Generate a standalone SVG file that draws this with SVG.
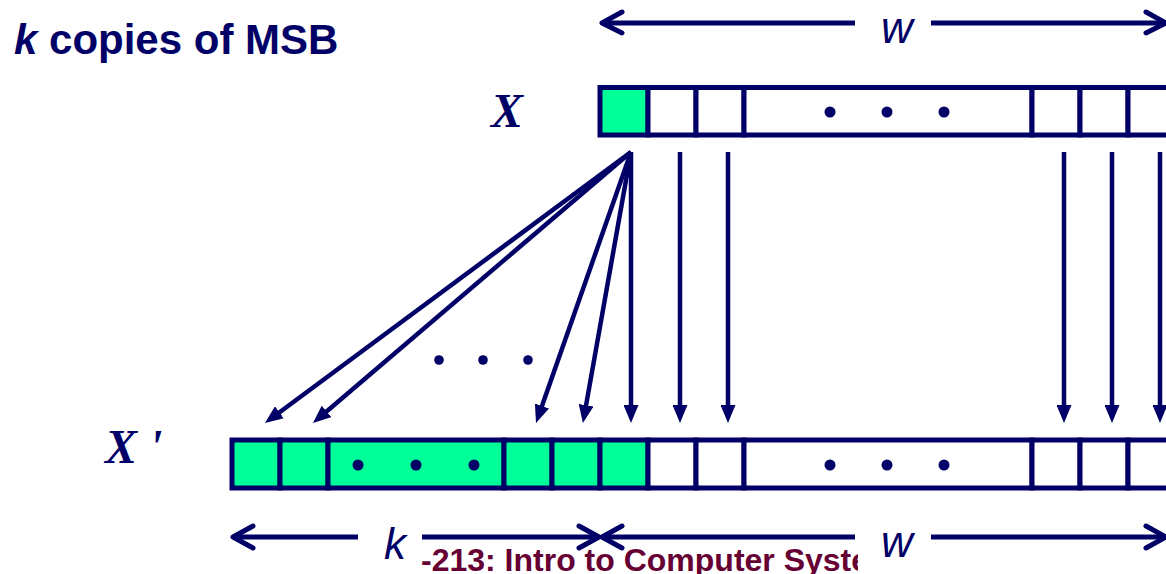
<svg xmlns="http://www.w3.org/2000/svg" width="1166" height="574" viewBox="0 0 1166 574">
<style>
.reg{fill:none;stroke:#000066;stroke-width:5}
.cell{stroke:#000066;stroke-width:5}
.g{fill:#00FF99}
.w{fill:#FFFFFF}
.dot{fill:#000066}
.ln{stroke:#000066;stroke-width:4.5;fill:none}
.dim{stroke:#000066;stroke-width:5;fill:none}
.chev{stroke:#000066;stroke-width:5;fill:none;stroke-linecap:round;stroke-linejoin:round}
.lbl{font-family:"Liberation Sans",Arial,sans-serif;font-style:italic;font-size:44px;fill:#000066}
.var{font-family:"Liberation Serif","Times New Roman",serif;font-style:italic;font-weight:bold;font-size:48px;fill:#000066}
</style>
<defs>
<marker id="ah" viewBox="0 0 18 15" markerWidth="18" markerHeight="15" refX="9" refY="7.5" orient="auto" markerUnits="userSpaceOnUse">
<path d="M0,0 L18,7.5 L0,15 z" fill="#000066"/>
</marker>
<clipPath id="footclip"><rect x="0" y="540" width="858" height="34"/></clipPath>
</defs>
<rect width="1166" height="574" fill="#FFFFFF"/>

<g id="title">
<text x="14" y="54" font-family="&quot;Liberation Sans&quot;,Arial,sans-serif" font-weight="bold" font-size="42" fill="#000066"><tspan font-style="italic">k</tspan> copies of MSB</text>
</g>

<g id="footer">
<text x="421" y="571" clip-path="url(#footclip)" font-family="&quot;Liberation Sans&quot;,Arial,sans-serif" font-weight="bold" font-size="32" fill="#660033">-213: Intro to Computer Syste</text>
</g>

<g id="label-X">
<text class="var" x="491" y="127">X</text>
</g>
<g id="label-Xprime">
<text class="var" x="105" y="463">X '</text>
</g>

<g id="register-X">
<rect class="cell g" x="600" y="87.5" width="48" height="47.5"/>
<rect class="cell w" x="648" y="87.5" width="48" height="47.5"/>
<rect class="cell w" x="696" y="87.5" width="48" height="47.5"/>
<rect class="cell w" x="744" y="87.5" width="288" height="47.5"/>
<rect class="cell w" x="1032" y="87.5" width="48" height="47.5"/>
<rect class="cell w" x="1080" y="87.5" width="48" height="47.5"/>
<rect class="cell w" x="1128" y="87.5" width="80" height="47.5"/>
<circle class="dot" cx="830" cy="112" r="5.5"/>
<circle class="dot" cx="887" cy="112" r="5.5"/>
<circle class="dot" cx="944" cy="112" r="5.5"/>
</g>

<g id="register-Xprime">
<rect class="cell g" x="232" y="440" width="48" height="48"/>
<rect class="cell g" x="280" y="440" width="48" height="48"/>
<rect class="cell g" x="328" y="440" width="176" height="48"/>
<rect class="cell g" x="504" y="440" width="48" height="48"/>
<rect class="cell g" x="552" y="440" width="48" height="48"/>
<rect class="cell g" x="600" y="440" width="48" height="48"/>
<rect class="cell w" x="648" y="440" width="48" height="48"/>
<rect class="cell w" x="696" y="440" width="48" height="48"/>
<rect class="cell w" x="744" y="440" width="288" height="48"/>
<rect class="cell w" x="1032" y="440" width="48" height="48"/>
<rect class="cell w" x="1080" y="440" width="48" height="48"/>
<rect class="cell w" x="1128" y="440" width="80" height="48"/>
<circle class="dot" cx="358" cy="465" r="5.5"/>
<circle class="dot" cx="416" cy="465" r="5.5"/>
<circle class="dot" cx="474" cy="465" r="5.5"/>
<circle class="dot" cx="830" cy="465" r="5.5"/>
<circle class="dot" cx="887" cy="465" r="5.5"/>
<circle class="dot" cx="944" cy="465" r="5.5"/>
</g>

<g id="connectors">
<line class="ln" x1="631" y1="152" x2="272.2" y2="417.7" marker-end="url(#ah)"/>
<line class="ln" x1="631" y1="152" x2="319.8" y2="417.2" marker-end="url(#ah)"/>
<line class="ln" x1="631" y1="152" x2="539" y2="414.5" marker-end="url(#ah)"/>
<line class="ln" x1="631" y1="152" x2="584.5" y2="414.1" marker-end="url(#ah)"/>
<line class="ln" x1="631" y1="152" x2="631" y2="414" marker-end="url(#ah)"/>
<line class="ln" x1="680" y1="152" x2="680" y2="414" marker-end="url(#ah)"/>
<line class="ln" x1="728" y1="152" x2="728" y2="414" marker-end="url(#ah)"/>
<line class="ln" x1="1064" y1="152" x2="1064" y2="414" marker-end="url(#ah)"/>
<line class="ln" x1="1112" y1="152" x2="1112" y2="414" marker-end="url(#ah)"/>
<line class="ln" x1="1160" y1="152" x2="1160" y2="414" marker-end="url(#ah)"/>
<circle class="dot" cx="439" cy="360" r="4.8"/>
<circle class="dot" cx="483" cy="360" r="4.8"/>
<circle class="dot" cx="528" cy="360" r="4.8"/>
</g>

<g id="dimension-w-top">
<line class="dim" x1="603" y1="23" x2="855" y2="23"/>
<line class="dim" x1="931" y1="23" x2="1166" y2="23"/>
<polyline class="chev" points="622,12 602,23 622,33"/>
<polyline class="chev" points="1146,12 1166,23 1146,33"/>
<text class="lbl" x="897" y="43" text-anchor="middle">w</text>
</g>

<g id="dimension-k">
<line class="dim" x1="234" y1="537" x2="358" y2="537"/>
<line class="dim" x1="422" y1="537" x2="598" y2="537"/>
<polyline class="chev" points="253,526 233,537 253,548"/>
<polyline class="chev" points="579,526 599,537 579,548"/>
<text class="lbl" x="395" y="559" text-anchor="middle">k</text>
</g>

<g id="dimension-w-bottom">
<line class="dim" x1="603" y1="537" x2="855" y2="537"/>
<line class="dim" x1="931" y1="537" x2="1166" y2="537"/>
<polyline class="chev" points="622,526 602,537 622,548"/>
<polyline class="chev" points="1146,526 1166,537 1146,548"/>
<text class="lbl" x="897" y="557" text-anchor="middle">w</text>
</g>
</svg>
